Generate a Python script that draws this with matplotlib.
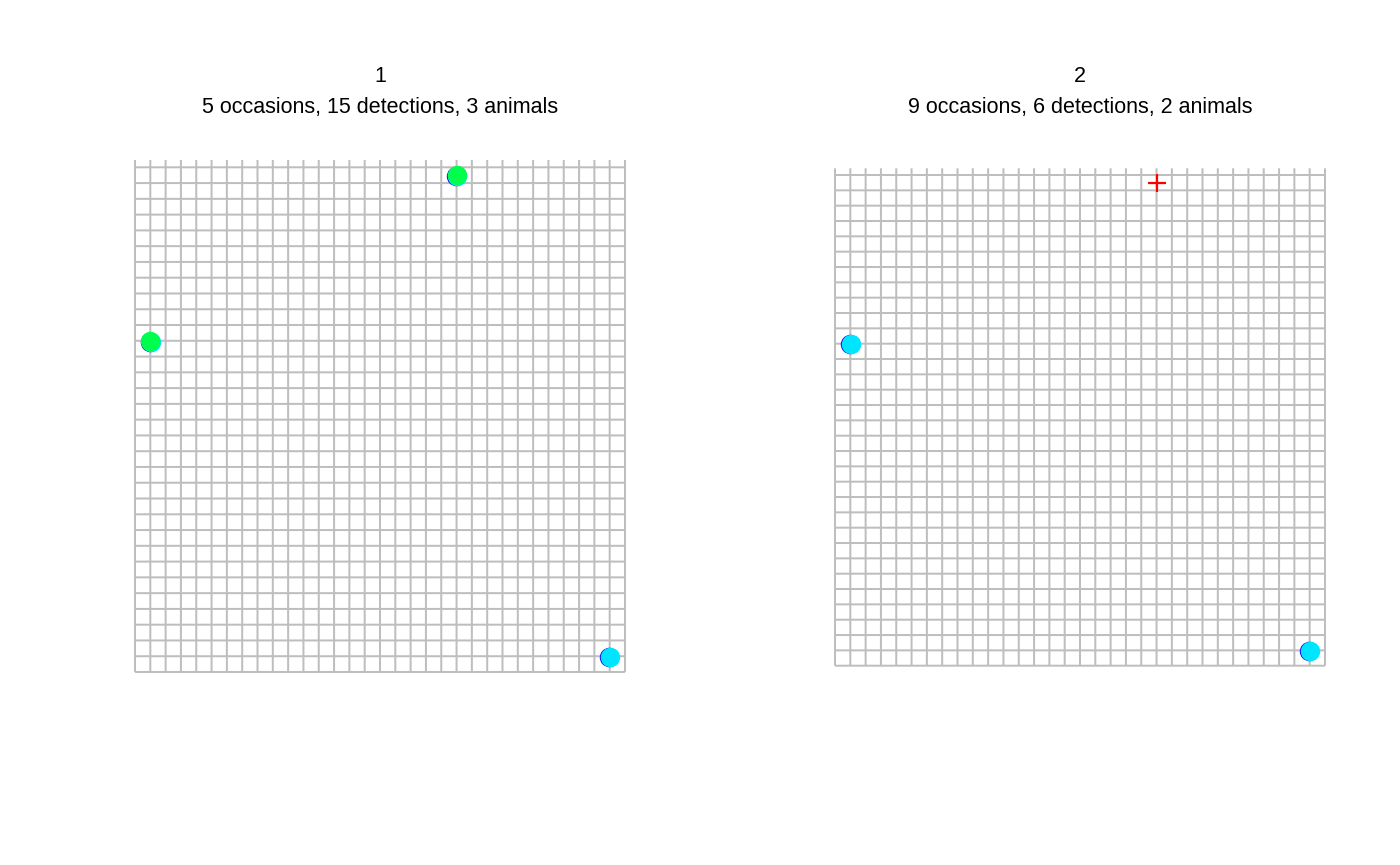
import numpy as np
import matplotlib
matplotlib.use("Agg")
import matplotlib.pyplot as plt

plt.rcParams['font.family'] = ['Liberation Sans', 'DejaVu Sans']

# Detektorgitter: 33 x 33 detektorer
n_rader = 33
n_kolonner = 33

# Paneltekster
titler = ["1", "2"]
undertitler = ["5 occasions, 15 detections, 3 animals",
               "9 occasions, 6 detections, 2 animals"]

# Deteksjoner per panel: x, y og dyr (indeks i fargelista)
p1_x = [21, 1, 31, 21, 1, 31, 21, 1]
p1_y = [31.5, 21, 1, 31.5, 21, 1, 31.5, 21]
p1_dyr = [0, 0, 0, 1, 1, 1, 2, 2]

p2_x = [1, 31, 1, 31]
p2_y = [21, 1, 21, 1]
p2_dyr = [0, 0, 1, 1]

# Rødt kryss i panel 2
p2_kryss_x = [21]
p2_kryss_y = [31.5]

farger = ["#2400FF", "#00E5FF", "#00FF4D"]
p2_farger = ["#2400FF", "#00E5FF"]

# Små forskyvninger så overlappende punkter synes i kanten
forskyvning = [(-0.05, -0.05), (0.04, -0.05), (0.0, 0.0)]

fig = plt.figure(figsize=(14, 8.65), dpi=100)
W, H = 1400, 865

# Pikselplassering for hvert gitter: venstre, høyre, bunn, topp
bokser = [(135, 625, 672, 160), (835, 1325, 665.7, 168.3)]
topplinje = [167.3, 175.0]

paneler = [(p1_x, p1_y, p1_dyr, farger), (p2_x, p2_y, p2_dyr, p2_farger)]

for i, (venstre, hoyre, bunn, topp) in enumerate(bokser):
    sy = (bunn - topplinje[i]) / (n_rader - 1)
    ytopp = (n_rader - 1) + (topplinje[i] - topp) / sy
    ax = fig.add_axes([venstre / W, (H - bunn) / H,
                       (hoyre - venstre) / W, (bunn - topp) / H])
    ax.set_xlim(0, n_kolonner - 1)
    ax.set_ylim(0, ytopp)
    ax.axis("off")

    xs = np.arange(n_kolonner)
    ys = np.arange(n_rader)
    ax.vlines(xs, 0, ytopp, color="#BEBEBE", lw=1.44, clip_on=False,
              snap=False)
    ax.hlines(ys, 0, n_kolonner - 1, color="#BEBEBE", lw=1.44,
              clip_on=False, snap=False)

    px, py, pdyr, pfarger = paneler[i]
    for x, y, d in zip(px, py, pdyr):
        dx, dy = forskyvning[d]
        ax.plot(x + dx, y + dy, "o", color=pfarger[d], ms=14, mew=0,
                clip_on=False, zorder=3 + d)

    if i == 1:
        ax.plot(p2_kryss_x, p2_kryss_y, "+", color="red", ms=13, mew=1.6,
                clip_on=False, zorder=5)

    xsenter = (venstre + hoyre) / 2 / W
    fig.text(xsenter, 1 - 77 / H, titler[i], ha="center", va="center",
             fontsize=15.5)
    fig.text(xsenter, 1 - 107 / H, undertitler[i], ha="center", va="center",
             fontsize=15.5)

fig.savefig("out.png", dpi=100)
